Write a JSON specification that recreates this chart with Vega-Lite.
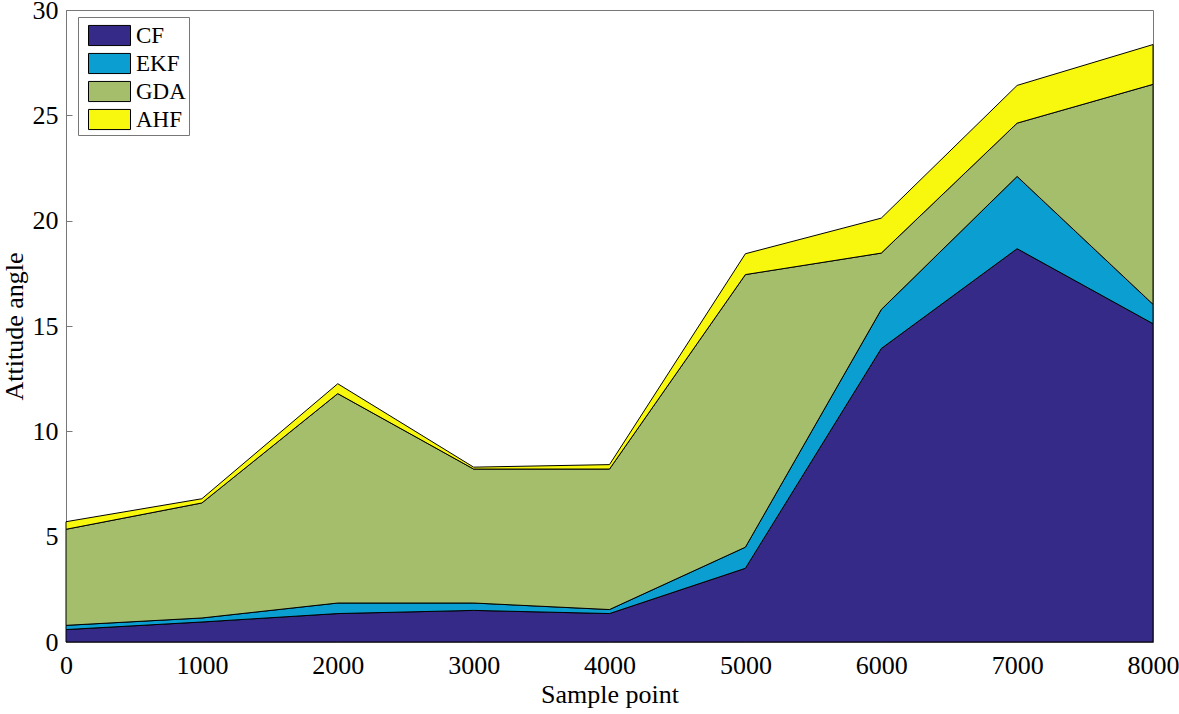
{
  "$schema": "https://vega.github.io/schema/vega-lite/v6.json",
  "autosize": "none",
  "width": 1087,
  "height": 632,
  "padding": {"left": 66, "top": 10, "right": 26, "bottom": 72},
  "background": "white",
  "config": {
    "font": "Liberation Serif",
    "view": {"stroke": "#777777", "strokeWidth": 1}
  },
  "data": {
    "values": [
      {"x": 0, "method": "CF", "k": 1, "v": 0.59},
      {"x": 1000, "method": "CF", "k": 1, "v": 0.95},
      {"x": 2000, "method": "CF", "k": 1, "v": 1.35},
      {"x": 3000, "method": "CF", "k": 1, "v": 1.5},
      {"x": 4000, "method": "CF", "k": 1, "v": 1.35},
      {"x": 5000, "method": "CF", "k": 1, "v": 3.5},
      {"x": 6000, "method": "CF", "k": 1, "v": 13.93},
      {"x": 7000, "method": "CF", "k": 1, "v": 18.67},
      {"x": 8000, "method": "CF", "k": 1, "v": 15.11},
      {"x": 0, "method": "EKF", "k": 2, "v": 0.2},
      {"x": 1000, "method": "EKF", "k": 2, "v": 0.19},
      {"x": 2000, "method": "EKF", "k": 2, "v": 0.5},
      {"x": 3000, "method": "EKF", "k": 2, "v": 0.35},
      {"x": 4000, "method": "EKF", "k": 2, "v": 0.19},
      {"x": 5000, "method": "EKF", "k": 2, "v": 1.0},
      {"x": 6000, "method": "EKF", "k": 2, "v": 1.85},
      {"x": 7000, "method": "EKF", "k": 2, "v": 3.43},
      {"x": 8000, "method": "EKF", "k": 2, "v": 0.92},
      {"x": 0, "method": "GDA", "k": 3, "v": 4.56},
      {"x": 1000, "method": "GDA", "k": 3, "v": 5.46},
      {"x": 2000, "method": "GDA", "k": 3, "v": 9.94},
      {"x": 3000, "method": "GDA", "k": 3, "v": 6.36},
      {"x": 4000, "method": "GDA", "k": 3, "v": 6.67},
      {"x": 5000, "method": "GDA", "k": 3, "v": 12.94},
      {"x": 6000, "method": "GDA", "k": 3, "v": 2.68},
      {"x": 7000, "method": "GDA", "k": 3, "v": 2.53},
      {"x": 8000, "method": "GDA", "k": 3, "v": 10.44},
      {"x": 0, "method": "AHF", "k": 4, "v": 0.36},
      {"x": 1000, "method": "AHF", "k": 4, "v": 0.2},
      {"x": 2000, "method": "AHF", "k": 4, "v": 0.47},
      {"x": 3000, "method": "AHF", "k": 4, "v": 0.09},
      {"x": 4000, "method": "AHF", "k": 4, "v": 0.21},
      {"x": 5000, "method": "AHF", "k": 4, "v": 0.99},
      {"x": 6000, "method": "AHF", "k": 4, "v": 1.66},
      {"x": 7000, "method": "AHF", "k": 4, "v": 1.79},
      {"x": 8000, "method": "AHF", "k": 4, "v": 1.89}
    ]
  },
  "mark": {"type": "area", "stroke": "#000000", "strokeWidth": 1, "line": false, "opacity": 1, "fillOpacity": 1},
  "encoding": {
    "x": {
      "field": "x", "type": "quantitative",
      "scale": {"domain": [0, 8000], "nice": false},
      "axis": {
        "title": "Sample point", "values": [0,1000,2000,3000,4000,5000,6000,7000,8000],
        "format": "d", "labelFlush": false, "labelOverlap": false,
        "grid": false, "domainColor": "#777777", "tickColor": "#777777",
        "tickSize": -6, "labelPadding": 16, "labelFont": "Liberation Serif", "labelFontSize": 26, "labelColor": "#000000",
        "titleFont": "Liberation Serif", "titleFontSize": 26, "titleFontWeight": "normal", "titleColor": "#000000", "titlePadding": 3
      }
    },
    "y": {
      "field": "v", "type": "quantitative", "stack": "zero",
      "scale": {"domain": [0, 30], "nice": false},
      "axis": {
        "title": "Attitude angle", "values": [0,5,10,15,20,25,30],
        "format": "d", "labelFlush": false, "labelOverlap": false,
        "grid": false, "domainColor": "#777777", "tickColor": "#777777",
        "tickSize": -6, "labelPadding": 14, "labelFont": "Liberation Serif", "labelFontSize": 26, "labelColor": "#000000",
        "titleFont": "Liberation Serif", "titleFontSize": 26, "titleFontWeight": "normal", "titleColor": "#000000", "titlePadding": 5
      }
    },
    "color": {
      "field": "method", "type": "nominal",
      "scale": {"domain": ["CF", "EKF", "GDA", "AHF"], "range": ["#352A87", "#0A9FD0", "#A5BE6B", "#F8F80E"]},
      "legend": {
        "title": null, "orient": "none", "legendX": 12, "legendY": 7,
        "symbolType": "M-1.4,-0.67L1.4,-0.67L1.4,0.67L-1.4,0.67Z", "symbolSize": 900,
        "symbolOffset": 13,
        "symbolStrokeColor": "#000000", "symbolStrokeWidth": 1, "symbolOpacity": 1,
        "labelFont": "Liberation Serif", "labelFontSize": 23, "labelColor": "#000000", "labelOffset": 11,
        "rowPadding": -4, "padding": 3, "strokeColor": "#777777", "fillColor": "white"
      }
    },
    "order": {"field": "k", "type": "quantitative"}
  }
}
